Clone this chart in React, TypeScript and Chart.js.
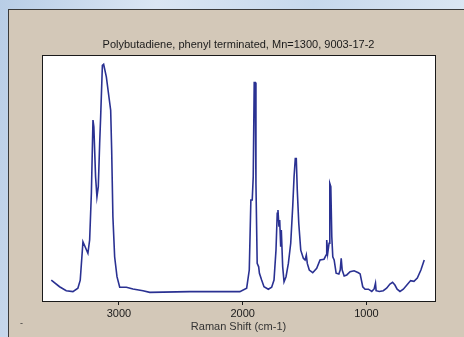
import React, { useEffect, useRef } from "react";
import { Chart, registerables } from "chart.js";

Chart.register(...registerables);

const TITLE = "Polybutadiene, phenyl terminated, Mn=1300, 9003-17-2";
const X_TITLE = "Raman Shift (cm-1)";
const X_TICKS = [3000, 2000, 1000];
const X_MIN = 446;
const X_MAX = 3622;

const WAVENUMBER = [
  3547, 3480, 3426, 3372, 3332, 3313, 3291, 3251, 3237, 3223, 3210, 3203, 3189, 3178, 3167, 3156, 3148, 3134, 3124, 3102,
  3081, 3067, 3059, 3049, 3035, 3016, 2994, 2940, 2887, 2806, 2751, 2428, 2185, 2023, 1968, 1947, 1934, 1923, 1915, 1907,
  1899, 1893, 1883, 1871, 1865, 1847, 1828, 1793, 1766, 1747, 1731, 1721, 1715, 1707, 1701, 1693, 1688, 1677, 1666, 1650,
  1631, 1612, 1596, 1585, 1575, 1567, 1559, 1547, 1531, 1510, 1496, 1486, 1478, 1462, 1434, 1402, 1375, 1343, 1326, 1321,
  1313, 1302, 1296, 1288, 1280, 1272, 1261, 1245, 1223, 1212, 1204, 1196, 1180, 1159, 1132, 1100, 1065, 1051, 1030, 1011,
  984, 957, 938, 927, 922, 896, 864, 837, 810, 789, 770, 752, 729, 702, 675, 643, 616, 589, 560, 533,
];

const INTENSITY = [
  8.5, 5.8, 4.2, 3.8, 5.2, 8.5, 24.1, 19.4, 24.8, 43.8, 73.6, 70.9, 50.5, 42.4, 46.5, 64.1, 74.9, 95.9, 96.3, 91.2,
  83.0, 77.6, 61.4, 34.3, 18.0, 9.9, 5.6, 5.6, 4.9, 4.2, 3.5, 3.8, 3.8, 3.8, 5.2, 12.6, 41.1, 41.1, 50.5, 88.9,
  88.9, 47.8, 15.3, 13.9, 11.3, 8.5, 5.8, 4.8, 5.6, 8.5, 20.7, 35.7, 37.0, 30.2, 32.9, 22.1, 28.9, 14.0, 7.8, 9.9,
  15.3, 23.5, 38.3, 50.5, 58.0, 58.0, 45.1, 31.6, 20.7, 17.4, 16.7, 18.7, 15.3, 12.6, 11.5, 13.3, 16.7, 17.0, 18.7, 24.8,
  19.4, 23.5, 47.8, 46.5, 26.1, 18.0, 16.7, 11.3, 11.0, 12.6, 17.4, 12.6, 10.2, 10.6, 11.9, 12.3, 11.5, 11.0, 5.8, 4.8,
  4.8, 3.9, 4.9, 7.2, 4.2, 3.9, 4.2, 5.2, 6.9, 7.6, 6.5, 4.8, 3.9, 4.8, 6.4, 8.3, 8.0, 9.3, 12.6, 16.7,
];

const FONT = "'Liberation Sans', Arial, sans-serif";

const borderPlugin = {
  id: "plotBorder",
  afterDraw(chart: any) {
    const { ctx, chartArea } = chart;
    ctx.save();
    ctx.strokeStyle = "#1a1a1a";
    ctx.lineWidth = 1;
    ctx.strokeRect(
      Math.round(chartArea.left) + 0.5,
      Math.round(chartArea.top) + 0.5,
      Math.round(chartArea.right - chartArea.left),
      Math.round(chartArea.bottom - chartArea.top)
    );
    ctx.restore();
  },
};

const plotBg = {
  id: "plotBg",
  beforeDraw(chart: any) {
    const { ctx, chartArea } = chart;
    ctx.save();
    ctx.fillStyle = "#ffffff";
    ctx.fillRect(chartArea.left, chartArea.top, chartArea.right - chartArea.left, chartArea.bottom - chartArea.top);
    ctx.restore();
  },
};

export default function App() {
  const ref = useRef<HTMLCanvasElement | null>(null);

  useEffect(() => {
    if (!ref.current) return;
    const points = WAVENUMBER.map((w, i) => ({ x: w, y: INTENSITY[i] }));
    const chart = new Chart(ref.current, {
      type: "line",
      data: {
        datasets: [
          {
            data: points,
            borderColor: "#2a3192",
            borderWidth: 1.6,
            pointRadius: 0,
            tension: 0,
            fill: false,
          },
        ],
      },
      options: {
        animation: false,
        responsive: false,
        maintainAspectRatio: false,
        layout: { padding: { left: 42, right: 29, top: 38, bottom: 0 } },
        plugins: {
          legend: { display: false },
          tooltip: { enabled: false },
          title: {
            display: true,
            text: TITLE,
            color: "#1a1a1a",
            font: { family: FONT, size: 11, weight: "normal" },
            padding: { top: 0, bottom: 4 },
          },
        },
        scales: {
          x: {
            type: "linear",
            reverse: true,
            min: X_MIN,
            max: X_MAX,
            afterBuildTicks: (scale: any) => {
              scale.ticks = X_TICKS.map((v) => ({ value: v }));
            },
            afterFit: (scale: any) => {
              scale.height = 36;
            },
            grid: {
              display: true,
              drawOnChartArea: false,
              drawTicks: true,
              tickLength: 4,
              color: "#1a1a1a",
            },
            border: { display: false },
            ticks: {
              color: "#1a1a1a",
              padding: 2,
              maxRotation: 0,
              font: { family: FONT, size: 11 },
              callback: (v: any) => String(v),
            },
            title: {
              display: true,
              text: X_TITLE,
              color: "#333333",
              font: { family: FONT, size: 11 },
              padding: { top: 0, bottom: 3 },
            },
          },
          y: {
            display: false,
            min: 0,
            max: 100,
          },
        },
      },
      plugins: [plotBg, borderPlugin],
    });
    return () => chart.destroy();
  }, []);

  return (
    <div
      style={{
        position: "fixed",
        left: 0,
        top: 0,
        width: 464,
        height: 337,
        overflow: "hidden",
        background: "linear-gradient(100deg, #b8cde6 0%, #dbe6f3 30%, #c6d8ec 60%, #e2ebf5 100%)",
      }}
    >
      <div
        style={{
          position: "absolute",
          left: 8,
          top: 9,
          width: 470,
          height: 340,
          background: "#d3c8b8",
          borderTop: "1px solid #3a3a3a",
          borderLeft: "1px solid #3a3a3a",
          boxSizing: "border-box",
        }}
      />
      <canvas ref={ref} width={464} height={337} style={{ position: "absolute", left: 0, top: 0, width: 464, height: 337 }} />
      <span
        style={{
          position: "absolute",
          left: 20,
          top: 318,
          fontFamily: FONT,
          fontSize: 9,
          color: "#333",
        }}
      >
        -
      </span>
    </div>
  );
}
